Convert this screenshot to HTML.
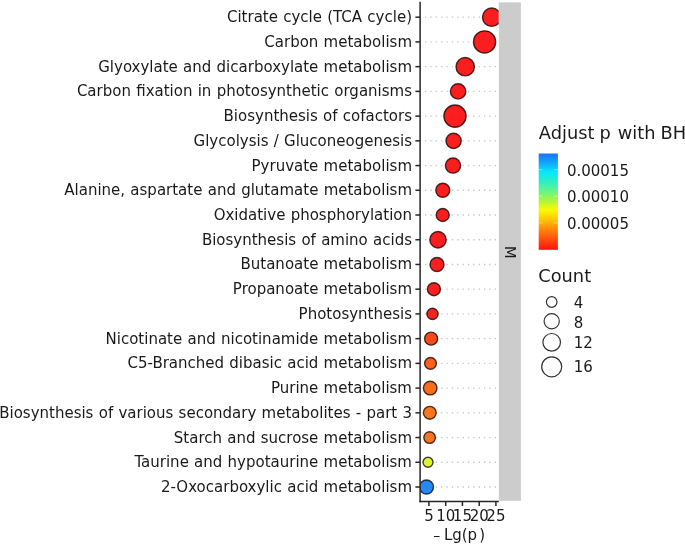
<!DOCTYPE html>
<html lang="en">
<head>
<meta charset="utf-8">
<title>KEGG enrichment bubble plot</title>
<style>
html,body{margin:0;padding:0;background:#fff;}
svg{display:block;will-change:transform;}
text{font-family:"DejaVu Sans","Liberation Sans",sans-serif;fill:#1a1a1a;}
.yl{font-size:15px;text-anchor:end;word-spacing:0.5px;}
.xl{font-size:15px;text-anchor:middle;}
.lt{font-size:17.8px;}
.ll{font-size:15px;}
</style>
</head>
<body>
<svg width="685" height="544" viewBox="0 0 685 544">
<defs>
<linearGradient id="cb" x1="0" y1="0" x2="0" y2="1">
<stop offset="0" stop-color="#1a72f5"/>
<stop offset="0.10" stop-color="#10a8fa"/>
<stop offset="0.19" stop-color="#05e8fb"/>
<stop offset="0.30" stop-color="#30f0c0"/>
<stop offset="0.40" stop-color="#6cf580"/>
<stop offset="0.50" stop-color="#b5f535"/>
<stop offset="0.585" stop-color="#fafa05"/>
<stop offset="0.68" stop-color="#ffc808"/>
<stop offset="0.78" stop-color="#ff8c0a"/>
<stop offset="0.90" stop-color="#ff4a0c"/>
<stop offset="1" stop-color="#ff1010"/>
</linearGradient>
<clipPath id="pc"><rect x="420.1" y="2.4" width="78.7" height="499.1"/></clipPath>
</defs>
<rect x="0" y="0" width="685" height="544" fill="#fff"/>

<g stroke="#c6c6c6" stroke-width="1.34" stroke-dasharray="1.34 4.02" fill="none">
<line x1="425.00" y1="17.20" x2="498.80" y2="17.20"/>
<line x1="425.00" y1="41.93" x2="498.80" y2="41.93"/>
<line x1="425.00" y1="66.65" x2="498.80" y2="66.65"/>
<line x1="425.00" y1="91.38" x2="498.80" y2="91.38"/>
<line x1="425.00" y1="116.11" x2="498.80" y2="116.11"/>
<line x1="425.00" y1="140.83" x2="498.80" y2="140.83"/>
<line x1="425.00" y1="165.56" x2="498.80" y2="165.56"/>
<line x1="425.00" y1="190.28" x2="498.80" y2="190.28"/>
<line x1="425.00" y1="215.01" x2="498.80" y2="215.01"/>
<line x1="425.00" y1="239.74" x2="498.80" y2="239.74"/>
<line x1="425.00" y1="264.46" x2="498.80" y2="264.46"/>
<line x1="425.00" y1="289.19" x2="498.80" y2="289.19"/>
<line x1="425.00" y1="313.92" x2="498.80" y2="313.92"/>
<line x1="425.00" y1="338.64" x2="498.80" y2="338.64"/>
<line x1="425.00" y1="363.37" x2="498.80" y2="363.37"/>
<line x1="425.00" y1="388.09" x2="498.80" y2="388.09"/>
<line x1="425.00" y1="412.82" x2="498.80" y2="412.82"/>
<line x1="425.00" y1="437.55" x2="498.80" y2="437.55"/>
<line x1="425.00" y1="462.27" x2="498.80" y2="462.27"/>
<line x1="425.00" y1="487.00" x2="498.80" y2="487.00"/>
</g>
<g clip-path="url(#pc)" stroke="#100000" stroke-opacity="0.76" stroke-width="1.4" fill-opacity="0.95">
<circle cx="491.7" cy="17.20" r="9.2" fill="#fb1212"/>
<circle cx="484.6" cy="41.93" r="11.1" fill="#fb1212"/>
<circle cx="465.2" cy="66.65" r="9.2" fill="#fb1212"/>
<circle cx="458.1" cy="91.38" r="7.7" fill="#fb1212"/>
<circle cx="455.0" cy="116.11" r="11.1" fill="#fb1212"/>
<circle cx="453.6" cy="140.83" r="7.6" fill="#fb1212"/>
<circle cx="453.0" cy="165.56" r="7.6" fill="#fb1212"/>
<circle cx="442.8" cy="190.28" r="7.0" fill="#fb1212"/>
<circle cx="442.7" cy="215.01" r="6.5" fill="#fb1212"/>
<circle cx="438.0" cy="239.74" r="8.2" fill="#fb1212"/>
<circle cx="437.0" cy="264.46" r="7.0" fill="#fb1212"/>
<circle cx="433.9" cy="289.19" r="6.5" fill="#f81414"/>
<circle cx="432.5" cy="313.92" r="5.6" fill="#f01818"/>
<circle cx="431.1" cy="338.64" r="6.5" fill="#fb3f0e"/>
<circle cx="430.5" cy="363.37" r="5.9" fill="#fb5710"/>
<circle cx="430.2" cy="388.09" r="6.8" fill="#fa6510"/>
<circle cx="429.8" cy="412.82" r="6.4" fill="#fa6f10"/>
<circle cx="429.6" cy="437.55" r="5.8" fill="#fa6b14"/>
<circle cx="428.0" cy="462.27" r="5.0" fill="#d9f528"/>
<circle cx="426.5" cy="487.00" r="7.0" fill="#1685f7"/>
</g>
<rect x="498.8" y="2.4" width="22.1" height="498.4" fill="#cccccc"/>
<text font-size="15" text-anchor="middle" transform="translate(504.7,252.2) rotate(90)" text-rendering="geometricPrecision">M</text>
<g stroke="#262626" stroke-width="1.5" fill="none">
<line x1="420.1" y1="1.7" x2="420.1" y2="502.2"/>
<line x1="419.4" y1="501.5" x2="498.8" y2="501.5"/>
<line x1="415.4" y1="17.20" x2="420.1" y2="17.20"/>
<line x1="415.4" y1="41.93" x2="420.1" y2="41.93"/>
<line x1="415.4" y1="66.65" x2="420.1" y2="66.65"/>
<line x1="415.4" y1="91.38" x2="420.1" y2="91.38"/>
<line x1="415.4" y1="116.11" x2="420.1" y2="116.11"/>
<line x1="415.4" y1="140.83" x2="420.1" y2="140.83"/>
<line x1="415.4" y1="165.56" x2="420.1" y2="165.56"/>
<line x1="415.4" y1="190.28" x2="420.1" y2="190.28"/>
<line x1="415.4" y1="215.01" x2="420.1" y2="215.01"/>
<line x1="415.4" y1="239.74" x2="420.1" y2="239.74"/>
<line x1="415.4" y1="264.46" x2="420.1" y2="264.46"/>
<line x1="415.4" y1="289.19" x2="420.1" y2="289.19"/>
<line x1="415.4" y1="313.92" x2="420.1" y2="313.92"/>
<line x1="415.4" y1="338.64" x2="420.1" y2="338.64"/>
<line x1="415.4" y1="363.37" x2="420.1" y2="363.37"/>
<line x1="415.4" y1="388.09" x2="420.1" y2="388.09"/>
<line x1="415.4" y1="412.82" x2="420.1" y2="412.82"/>
<line x1="415.4" y1="437.55" x2="420.1" y2="437.55"/>
<line x1="415.4" y1="462.27" x2="420.1" y2="462.27"/>
<line x1="415.4" y1="487.00" x2="420.1" y2="487.00"/>
<line x1="428.9" y1="501.5" x2="428.9" y2="506.0"/>
<line x1="445.7" y1="501.5" x2="445.7" y2="506.0"/>
<line x1="462.4" y1="501.5" x2="462.4" y2="506.0"/>
<line x1="479.2" y1="501.5" x2="479.2" y2="506.0"/>
<line x1="495.9" y1="501.5" x2="495.9" y2="506.0"/>
</g>
<g class="yl">
<text x="412" y="22.20">Citrate cycle (TCA cycle)</text>
<text x="412" y="46.93">Carbon metabolism</text>
<text x="412" y="71.65">Glyoxylate and dicarboxylate metabolism</text>
<text x="412" y="96.38">Carbon fixation in photosynthetic organisms</text>
<text x="412" y="121.11">Biosynthesis of cofactors</text>
<text x="412" y="145.83">Glycolysis / Gluconeogenesis</text>
<text x="412" y="170.56">Pyruvate metabolism</text>
<text x="412" y="195.28">Alanine, aspartate and glutamate metabolism</text>
<text x="412" y="220.01">Oxidative phosphorylation</text>
<text x="412" y="244.74">Biosynthesis of amino acids</text>
<text x="412" y="269.46">Butanoate metabolism</text>
<text x="412" y="294.19">Propanoate metabolism</text>
<text x="412" y="318.92">Photosynthesis</text>
<text x="412" y="343.64">Nicotinate and nicotinamide metabolism</text>
<text x="412" y="368.37">C5-Branched dibasic acid metabolism</text>
<text x="412" y="393.09">Purine metabolism</text>
<text x="412" y="417.82">Biosynthesis of various secondary metabolites - part 3</text>
<text x="412" y="442.55">Starch and sucrose metabolism</text>
<text x="412" y="467.27">Taurine and hypotaurine metabolism</text>
<text x="412" y="492.00">2-Oxocarboxylic acid metabolism</text>
</g>
<g class="xl">
<text x="428.9" y="520.6">5</text>
<text x="445.7" y="520.6">10</text>
<text x="462.4" y="520.6">15</text>
<text x="479.2" y="520.6">20</text>
<text x="495.9" y="520.6">25</text>
</g>
<text x="433.2" y="540.4" font-size="14" fill="#444">–</text>
<text x="443.9" y="540.4" font-size="15">Lg(p<tspan dx="2.2">)</tspan></text>
<text class="lt" y="139.2"><tspan x="538.8">Adjust</tspan> <tspan x="599.5">p</tspan> <tspan x="617.8">with</tspan> <tspan x="660.6">BH</tspan></text>
<rect x="538.7" y="153.5" width="19.2" height="96.3" fill="url(#cb)"/>
<g stroke="#fff" stroke-opacity="0.55" stroke-width="0.7">
<line x1="538.7" y1="169.7" x2="542.6" y2="169.7"/><line x1="554" y1="169.7" x2="557.9" y2="169.7"/>
<line x1="538.7" y1="196.2" x2="542.6" y2="196.2"/><line x1="554" y1="196.2" x2="557.9" y2="196.2"/>
<line x1="538.7" y1="222.9" x2="542.6" y2="222.9"/><line x1="554" y1="222.9" x2="557.9" y2="222.9"/>
</g>
<g class="ll">
<text x="566.9" y="175.9">0.00015</text>
<text x="566.9" y="202.4">0.00010</text>
<text x="566.9" y="229.1">0.00005</text>
</g>
<text class="lt" x="538.3" y="282.0">Count</text>
<g fill="#fff" stroke="#333" stroke-width="1.2">
<circle cx="551.7" cy="302.0" r="5.3"/>
<circle cx="551.7" cy="321.2" r="7.6"/>
<circle cx="551.7" cy="342.3" r="8.8"/>
<circle cx="551.7" cy="366.8" r="10.0"/>
</g>
<g class="ll">
<text x="573.7" y="308.1">4</text>
<text x="573.7" y="327.5">8</text>
<text x="573.7" y="348.0">12</text>
<text x="573.7" y="372.4">16</text>
</g>
</svg>
</body>
</html>
